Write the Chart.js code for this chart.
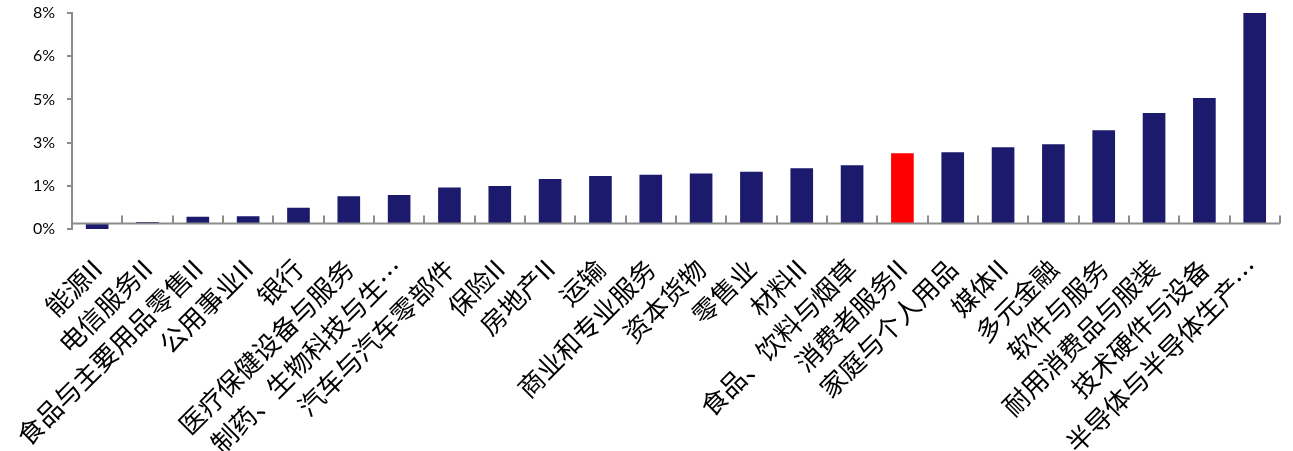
<!DOCTYPE html>
<html>
<head>
<meta charset="utf-8">
<script src="https://cdn.jsdelivr.net/npm/chart.js@4"></script>
<style>
  html, body { margin: 0; padding: 0; background: #fff; }
  #wrap { width: 1293px; height: 451px; }
</style>
</head>
<body>
<div id="wrap"><canvas id="chart"></canvas></div>
<script>
const industries = [
  '能源II', '电信服务II', '食品与主要用品零售II', '公用事业II', '银行',
  '医疗保健设备与服务', '制药、生物科技与生…', '汽车与汽车零部件', '保险II', '房地产II',
  '运输', '商业和专业服务', '资本货物', '零售业', '材料II',
  '食品、饮料与烟草', '消费者服务II', '家庭与个人用品', '媒体II', '多元金融',
  '软件与服务', '耐用消费品与服装', '技术硬件与设备', '半导体与半导体生产…'
];
const returns = [
  -0.2, 0.06, 0.25, 0.27, 0.59,
  1.01, 1.06, 1.34, 1.39, 1.65,
  1.76, 1.81, 1.86, 1.92, 2.05,
  2.16, 2.61, 2.64, 2.83, 2.94,
  3.46, 4.10, 4.65, 8.0
];
const highlight = '消费者服务II';

const NAVY = '#1b1a6c';
const RED = '#ff0000';
const AXIS = '#8c8c8c';

// zero line + upward category ticks, like the original Excel axis
const zeroAxis = {
  id: 'zeroAxis',
  afterDatasetsDraw(chart) {
    const { ctx, chartArea, scales } = chart;
    const y0 = scales.y.getPixelForValue(0);
    const n = industries.length;
    const step = (chartArea.right - chartArea.left) / n;
    ctx.save();
    ctx.strokeStyle = AXIS;
    ctx.lineWidth = 2;
    ctx.beginPath();
    ctx.moveTo(chartArea.left, y0);
    ctx.lineTo(chartArea.right, y0);
    for (let i = 1; i <= n; i++) {
      const x = Math.round(chartArea.left + step * i);
      ctx.moveTo(x, y0);
      ctx.lineTo(x, y0 - 8);
    }
    ctx.stroke();
    ctx.restore();
  }
};

new Chart(document.getElementById('chart'), {
  type: 'bar',
  data: {
    labels: industries,
    datasets: [{
      data: returns,
      backgroundColor: industries.map(n => n === highlight ? RED : NAVY),
      barPercentage: 0.45,
      categoryPercentage: 1
    }]
  },
  plugins: [zeroAxis],
  options: {
    responsive: true,
    maintainAspectRatio: false,
    animation: false,
    layout: { padding: { top: 0, right: 11, left: 0, bottom: 0 } },
    plugins: {
      legend: { display: false },
      tooltip: { enabled: false }
    },
    scales: {
      x: {
        grid: { display: false },
        border: { display: false },
        ticks: {
          autoSkip: false,
          maxRotation: 45,
          minRotation: 45,
          padding: 16,
          color: '#000',
          font: { family: '"Noto Sans CJK SC", sans-serif', size: 26 }
        },
        afterFit(scale) { scale.height = 222; }
      },
      y: {
        min: -0.2,
        max: 7.8,
        grid: {
          drawOnChartArea: false,
          tickLength: 5,
          color: AXIS,
          lineWidth: 2
        },
        border: { display: true, color: AXIS, width: 2 },
        ticks: {
          stepSize: 1.6,
          padding: 12,
          color: '#000',
          font: { family: 'Lato, "Open Sans", sans-serif', size: 16 },
          callback: v => Math.round(v) + '%'
        },
        afterFit(scale) {
          scale.width = 72;
          scale.paddingTop = 13;
          scale.paddingBottom = 0;
        }
      }
    }
  }
});
</script>
</body>
</html>
